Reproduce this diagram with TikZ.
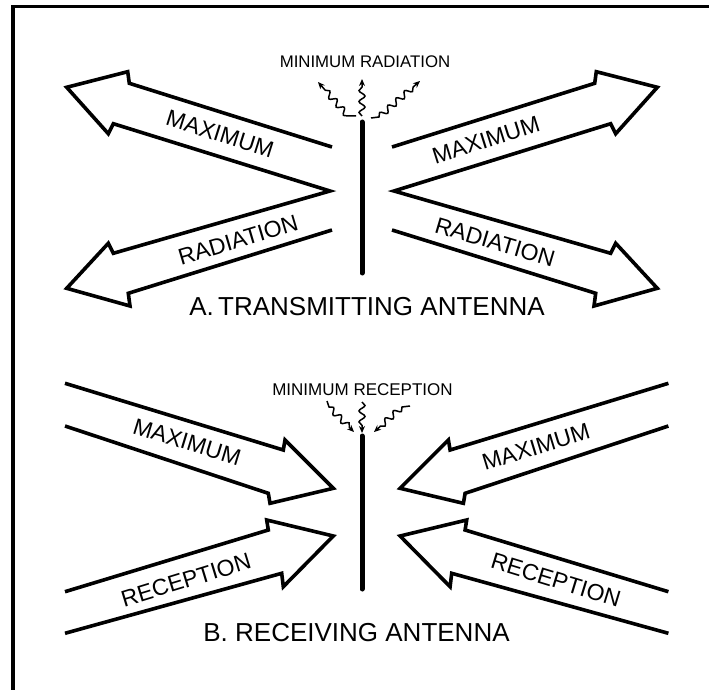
\documentclass[tikz,border=0pt]{standalone}
\usepackage{fontspec}
\setmainfont{Liberation Sans}
\usetikzlibrary{decorations.pathmorphing,arrows.meta}
\newcommand\armsApath{(332,147) -- (129.3,83.3) -- (127.7,71.7) -- (66.7,87.3) -- (108.3,133.7) -- (113.3,123.7) -- (330,191) -- (113.3,253.3) -- (108.3,243.3) -- (66.7,288.3) -- (130,306) -- (128.3,293.3) -- (332,230)}
\newcommand\armsBmax{(65,383.3) -- (283.3,450) -- (285,440) -- (333.3,488.3) -- (270,503.3) -- (268.3,493.3) -- (65,426)}
\newcommand\armsBrec{(65,591.7) -- (268.3,530) -- (266.7,520) -- (333.3,536) -- (283.3,586.7) -- (281.7,573.3) -- (65,633.3)}
\begin{document}
\begin{tikzpicture}[x=1pt,y=-1pt,
  bigarrow/.style={line width=3.6pt, line join=miter},
  lbl/.style={font=\fontsize{23}{23}\selectfont, inner sep=0pt},
  minlbl/.style={font=\fontsize{16.8}{17}\selectfont, inner sep=0pt, anchor=base},
  title/.style={font=\fontsize{26}{26}\selectfont, inner sep=0pt, anchor=base},
  mast/.style={line width=5pt, line cap=round},
  wavy/.style={line width=1.5pt, -{Stealth[length=7pt,width=6pt]}},
  wv/.style={decoration={snake, amplitude=3pt, segment length=11pt, post length=6pt}}]
\useasboundingbox (0,0) rectangle (709,690);
% frame
\draw[line width=3.5pt, line join=miter] (13,690) -- (13,6.5) -- (709,6.5);

% ===== A. transmitting antenna =====
\draw[mast] (362,122) -- (362,273);
\draw[bigarrow] \armsApath;
\begin{scope}[xshift=724pt, xscale=-1]
  \draw[bigarrow] \armsApath;
\end{scope}
\node[lbl, rotate=-17.5] (amaxl) at (220,134) {MAXIMUM};
\node[lbl, rotate=16.5] (aradl) at (238,240) {RADIATION};
\node[lbl, rotate=17.5] (amaxr) at (486,140) {MAXIMUM};
\node[lbl, rotate=-16.5] (aradr) at (495,242) {RADIATION};
\node[minlbl] (amin) at (365,68) {MINIMUM RADIATION};
\node[title] (atitle) at (367,315.5) {A.\,TRANSMITTING ANTENNA};
\draw[wavy] (362,116) decorate[wv] {-- (362,79)};
\draw[wavy] (356,116) -- (348,116) decorate[wv] {-- (318,82)};
\draw[wavy] (371,118) -- (379,117) decorate[wv] {-- (420,81)};

% ===== B. receiving antenna =====
\draw[mast] (362,436) -- (362,589);
\draw[bigarrow] \armsBmax;
\draw[bigarrow] \armsBrec;
\begin{scope}[xshift=733.4pt, xscale=-1]
  \draw[bigarrow] \armsBmax;
  \draw[bigarrow] \armsBrec;
\end{scope}
\node[lbl, rotate=-17] (bmaxl) at (187,442) {MAXIMUM};
\node[lbl, rotate=17] (brecl) at (186,580) {RECEPTION};
\node[lbl, rotate=17] (bmaxr) at (536,447) {MAXIMUM};
\node[lbl, rotate=-17] (brecr) at (556,580) {RECEPTION};
\node[minlbl, font=\fontsize{17}{17}\selectfont] (bmin) at (362.5,395) {MINIMUM RECEPTION};
\node[title] (btitle) at (356.5,641.5) {B. RECEIVING ANTENNA};
\draw[wavy] (362,402) decorate[wv] {-- (362,433)};
\draw[wavy] (327,401) -- (329,407) decorate[wv] {-- (354,432)};
\draw[wavy] (410,406) -- (402,407) decorate[wv] {-- (374,432)};
\end{tikzpicture}
\end{document}
